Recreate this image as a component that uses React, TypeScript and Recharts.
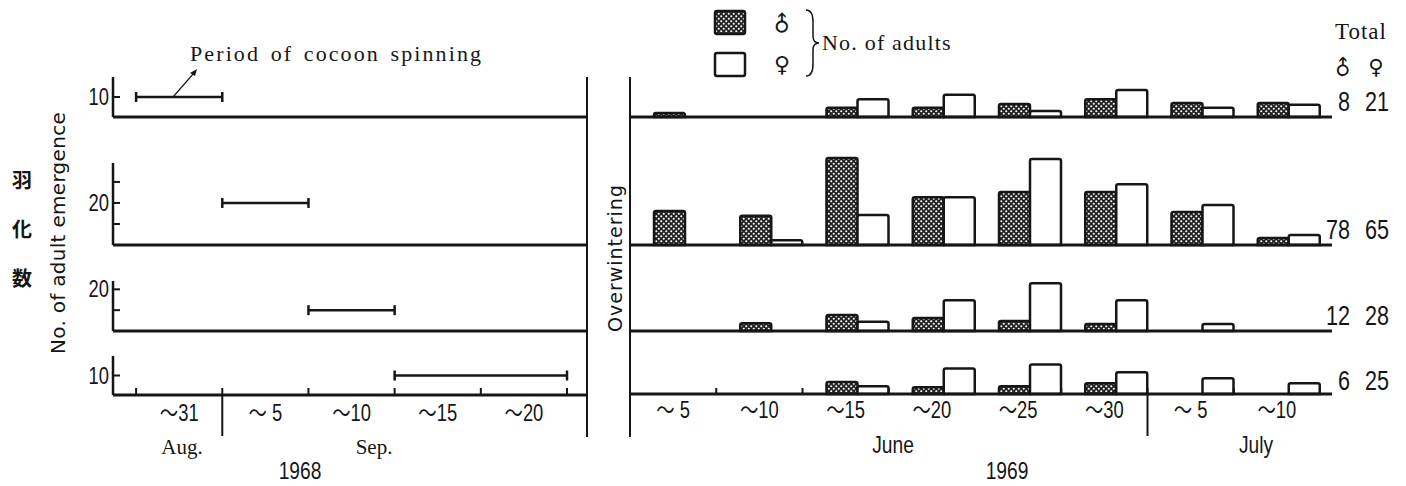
import React from 'react';
import { ComposedChart, Bar, Line, XAxis, YAxis } from 'recharts';

const W = 1406;
const H = 486;

// 1969: five-day emergence periods (June 1-5 ... July 6-10)
const periods = ['Jun 1-5', 'Jun 6-10', 'Jun 11-15', 'Jun 16-20', 'Jun 21-25', 'Jun 26-30', 'Jul 1-5', 'Jul 6-10'];
const periodLabels = ['～ 5', '～10', '～15', '～20', '～25', '～30', '～ 5', '～10'];

// No. of adults per period, one pair of arrays per cocoon-spinning group
const males1 = [0.9, 0, 2.1, 2.1, 3.0, 4.1, 3.2, 3.2];
const females1 = [0, 0, 4.1, 5.1, 1.4, 6.2, 2.1, 2.8];
const males2 = [7.8, 6.7, 20, 11, 12.2, 12.2, 7.6, 1.6];
const females2 = [0, 1.1, 6.9, 11, 19.8, 14, 9.2, 2.3];
const males3 = [0, 1.8, 3.7, 3.0, 2.3, 1.6, 0, 0];
const females3 = [0, 0, 2.1, 7.1, 11, 7.1, 1.6, 0];
const males4 = [0, 0, 2.8, 1.6, 1.8, 2.5, 0, 0];
const females4 = [0, 0, 1.8, 6.0, 6.9, 5.1, 3.7, 2.5];

const totalMales = [8, 78, 12, 6];
const totalFemales = [21, 65, 28, 25];

// 1968: cocoon spinning periods as day numbers counted from Aug 1 (Sep 5 = 36)
const spinStart = [26, 31, 36, 41];
const spinEnd = [31, 36, 41, 51];
const spinLevel = [10, 20, 10, 10];
const leftTicks = [[10], [10, 20, 30], [10, 20], [10]];
const leftTickShown = [[10], [20], [20], [10]];
const leftBounds = [26, 31, 36, 41, 46, 51];
const leftMids = [28.5, 33.5, 38.5, 43.5, 48.5];
const leftLabels = ['～31', '～ 5', '～10', '～15', '～20'];
const augSepBreak = 31;
const juneJulyBreak = 6;

const rightBounds = [1, 2, 3, 4, 5, 6, 7];
const rightMids = [0.5, 1.5, 2.5, 3.5, 4.5, 5.5, 6.5, 7.5];

const males = [males1, males2, males3, males4];
const females = [females1, females2, females3, females4];

// layout of the four rows (pixel tops / baselines)
const rows = [
  { top: 77, base: 117, leftMax: 20 },
  { top: 163, base: 245, leftMax: 39 },
  { top: 281, base: 331, leftMax: 24 },
  { top: 356, base: 396, leftMax: 20 },
];
const LEFT_X0 = 113;
const LEFT_X1 = 587;
const RIGHT_X0 = 630;
const RIGHT_X1 = 1332;
const RIGHT_H = 100;
const RIGHT_MAX = 23;
const LEFT_DOMAIN: [number, number] = [24.66, 52.16];
const RIGHT_DOMAIN: [number, number] = [0, 8.139];

const INK = '#161616';
const SANS_PLAIN = '"Liberation Sans", Arial, "Noto Sans CJK JP", sans-serif';
const SERIF = '"Liberation Serif", "DejaVu Serif", serif';
const SANS = '"DejaVu Sans", "Liberation Sans", sans-serif';

const layer: React.CSSProperties = { position: 'absolute', left: 0, top: 0 };

// condensed sans numerals, as in the printed figure
function Narrow({ x, y, size = 22, anchor = 'middle', children }: any) {
  return (
    <text
      transform={`translate(${x},${y}) scale(0.8,1)`}
      textAnchor={anchor}
      fontFamily={SANS_PLAIN}
      fontSize={size}
      fill={INK}
    >
      {children}
    </text>
  );
}

function LeftRow({ i }: { i: number }) {
  const r = rows[i];
  const seg = [
    { day: spinStart[i], n: spinLevel[i] },
    { day: spinEnd[i], n: spinLevel[i] },
  ];
  const last = i === rows.length - 1;
  return (
    <div style={layer}>
      <ComposedChart
        width={W}
        height={H}
        data={seg}
        margin={{ top: r.top, bottom: H - r.base - 1, left: LEFT_X0 - 1, right: W - LEFT_X1 }}
      >
        <XAxis
          xAxisId="d"
          dataKey="day"
          type="number"
          domain={LEFT_DOMAIN}
          allowDataOverflow
          height={1}
          ticks={last ? leftBounds : []}
          interval={0}
          tickSize={0}
          tickMargin={0}
          tickLine={false}
          axisLine={{ stroke: INK, strokeWidth: 3 }}
          tick={
            last
              ? (p: any) => (
                  <line
                    x1={p.x}
                    x2={p.x}
                    y1={p.y - 7}
                    y2={p.payload.value === augSepBreak ? p.y + 41 : p.y}
                    stroke={INK}
                    strokeWidth={2}
                  />
                )
              : false
          }
        />
        {last && (
          <XAxis
            xAxisId="lab"
            dataKey="day"
            type="number"
            domain={LEFT_DOMAIN}
            allowDataOverflow
            height={1}
            ticks={leftMids}
            interval={0}
            tickSize={0}
            tickMargin={0}
            tickLine={false}
            axisLine={false}
            tick={(p: any) => (
              <Narrow x={p.x} y={p.y + 25} size={23}>
                {leftLabels[p.index]}
              </Narrow>
            )}
          />
        )}
        <YAxis
          yAxisId="n"
          type="number"
          domain={[0, r.leftMax]}
          ticks={leftTicks[i]}
          interval={0}
          width={1}
          tickSize={0}
          tickMargin={0}
          tickLine={false}
          axisLine={{ stroke: INK, strokeWidth: 2.5 }}
          tick={(p: any) => (
            <g>
              <line x1={p.x} x2={p.x + 7} y1={p.y} y2={p.y} stroke={INK} strokeWidth={2} />
              {leftTickShown[i].includes(p.payload.value) && (
                <Narrow x={p.x - 4} y={p.y + 8} anchor="end" size={23}>
                  {p.payload.value}
                </Narrow>
              )}
            </g>
          )}
        />
        <Line
          xAxisId="d"
          yAxisId="n"
          dataKey="n"
          stroke={INK}
          strokeWidth={2.5}
          isAnimationActive={false}
          dot={(p: any) => (
            <line key={p.index} x1={p.cx} x2={p.cx} y1={p.cy - 5} y2={p.cy + 5} stroke={INK} strokeWidth={2.5} />
          )}
        />
      </ComposedChart>
    </div>
  );
}

function RightRow({ i }: { i: number }) {
  const r = rows[i];
  const data = periods.map((p, k) => ({
    period: p,
    slot: rightMids[k],
    male: males[i][k],
    female: females[i][k],
  }));
  const last = i === rows.length - 1;
  return (
    <div style={layer}>
      <ComposedChart
        width={W}
        height={H}
        data={data}
        margin={{ top: r.base - RIGHT_H, bottom: H - r.base - 1, left: RIGHT_X0, right: W - RIGHT_X1 }}
        barCategoryGap={12}
        barGap={0}
      >
        <XAxis
          xAxisId="bars"
          dataKey="period"
          type="category"
          padding={{ left: 12, right: 0 }}
          height={1}
          tick={false}
          tickLine={false}
          axisLine={{ stroke: INK, strokeWidth: 3 }}
        />
        {last && (
          <XAxis
            xAxisId="marks"
            dataKey="slot"
            type="number"
            domain={RIGHT_DOMAIN}
            allowDataOverflow
            height={1}
            ticks={rightBounds}
            interval={0}
            tickSize={0}
            tickMargin={0}
            tickLine={false}
            axisLine={false}
            tick={(p: any) => (
              <line
                x1={p.x}
                x2={p.x}
                y1={p.y - 8}
                y2={p.payload.value === juneJulyBreak ? p.y + 40 : p.y - 1}
                stroke={INK}
                strokeWidth={2}
              />
            )}
          />
        )}
        {last && (
          <XAxis
            xAxisId="labs"
            dataKey="slot"
            type="number"
            domain={RIGHT_DOMAIN}
            allowDataOverflow
            height={1}
            ticks={rightMids}
            interval={0}
            tickSize={0}
            tickMargin={0}
            tickLine={false}
            axisLine={false}
            tick={(p: any) => (
              <Narrow x={p.x} y={p.y + 23} size={23}>
                {periodLabels[p.index]}
              </Narrow>
            )}
          />
        )}
        <YAxis yAxisId="a" hide type="number" domain={[0, RIGHT_MAX]} />
        <Bar
          xAxisId="bars"
          yAxisId="a"
          dataKey="male"
          fill="url(#stipple)"
          stroke={INK}
          strokeWidth={2.5}
          radius={[2, 2, 0, 0]}
          isAnimationActive={false}
        />
        <Bar
          xAxisId="bars"
          yAxisId="a"
          dataKey="female"
          fill="#fff"
          stroke={INK}
          strokeWidth={2.5}
          radius={[2, 2, 0, 0]}
          isAnimationActive={false}
        />
      </ComposedChart>
    </div>
  );
}

function Overlay() {
  return (
    <svg width={W} height={H} style={{ ...layer, pointerEvents: 'none' }}>
      {/* panel frame lines */}
      <line x1={LEFT_X1} x2={LEFT_X1} y1={77} y2={437} stroke={INK} strokeWidth={2} />
      <line x1={RIGHT_X0} x2={RIGHT_X0} y1={77} y2={437} stroke={INK} strokeWidth={2} />

      {/* annotation */}
      <text x={190} y={61} fontFamily={SERIF} fontSize={22} fill={INK} letterSpacing={2.1} wordSpacing={3}>
        Period of cocoon spinning
      </text>
      <line x1={173} y1={97} x2={194} y2={73} stroke={INK} strokeWidth={1.2} />
      <polygon points="197,69 190,73 195,76" fill={INK} />

      {/* y titles */}
      <text
        transform="translate(65,233) rotate(-90)"
        textAnchor="middle"
        fontFamily={SANS}
        fontSize={20}
        letterSpacing={0.3}
        fill={INK}
      >
        No. of adult emergence
      </text>
      {['羽', '化', '数'].map((c, k) => (
        <text
          key={c}
          x={22}
          y={188 + k * 49}
          textAnchor="middle"
          fontFamily='"Noto Sans CJK JP", sans-serif'
          fontWeight={700}
          fontSize={20}
          fill={INK}
        >
          {c}
        </text>
      ))}
      <text
        transform="translate(622,258) rotate(-90)"
        textAnchor="middle"
        fontFamily={SANS}
        fontSize={19}
        letterSpacing={1}
        fill={INK}
      >
        Overwintering
      </text>

      {/* legend */}
      <rect x={715} y={11} width={30} height={23} fill="url(#stipple)" stroke={INK} strokeWidth={2.5} rx={2} />
      <rect x={715} y={53} width={30} height={23} fill="#fff" stroke={INK} strokeWidth={2.5} rx={2} />
      <text x={782} y={24} transform="rotate(-45 782 24)" textAnchor="middle" dominantBaseline="central" fontFamily={SANS} fontSize={22} fill={INK}>
        ♂
      </text>
      <text x={782} y={64} textAnchor="middle" dominantBaseline="central" fontFamily={SANS} fontSize={22} fill={INK}>
        ♀
      </text>
      <path d="M806,10 Q813,10 813,22 L813,36 Q813,43 819,43 Q813,43 813,50 L813,64 Q813,76 806,76" fill="none" stroke={INK} strokeWidth={1.5} />
      <text x={822} y={50} fontFamily={SERIF} fontSize={22} letterSpacing={1.2} fill={INK}>
        No. of adults
      </text>

      {/* totals */}
      <text x={1361} y={39} textAnchor="middle" fontFamily={SERIF} fontSize={23} letterSpacing={1} fill={INK}>
        Total
      </text>
      <text x={1343} y={68} transform="rotate(-45 1343 68)" textAnchor="middle" dominantBaseline="central" fontFamily={SANS} fontSize={21} fill={INK}>
        ♂
      </text>
      <text x={1376} y={67} textAnchor="middle" dominantBaseline="central" fontFamily={SANS} fontSize={21} fill={INK}>
        ♀
      </text>
      {rows.map((r, k) => (
        <g key={k}>
          <Narrow x={1350} y={r.base - 6} size={27} anchor="end">
            {totalMales[k]}
          </Narrow>
          <Narrow x={1389} y={r.base - 6} size={27} anchor="end">
            {totalFemales[k]}
          </Narrow>
        </g>
      ))}

      {/* months and years */}
      <text x={182} y={454} textAnchor="middle" fontFamily={SERIF} fontSize={21} fill={INK}>
        Aug.
      </text>
      <text x={374} y={454} textAnchor="middle" fontFamily={SERIF} fontSize={21} fill={INK}>
        Sep.
      </text>
      <Narrow x={300} y={479} size={24}>1968</Narrow>
      <Narrow x={893} y={453} size={24}>June</Narrow>
      <Narrow x={1256} y={453} size={24}>July</Narrow>
      <Narrow x={1007} y={479} size={24}>1969</Narrow>
    </svg>
  );
}

export default function App() {
  return (
    <div style={{ position: 'absolute', left: 0, top: 0, width: W, height: H, background: '#fff', overflow: 'hidden' }}>
      <svg width={0} height={0} style={{ position: 'absolute' }}>
        <defs>
          <pattern id="stipple" width={5} height={5} patternUnits="userSpaceOnUse">
            <rect width={5} height={5} fill="#222" />
            <circle cx={1.25} cy={1.25} r={1.05} fill="#fff" />
            <circle cx={3.75} cy={3.75} r={1.05} fill="#fff" />
          </pattern>
        </defs>
      </svg>
      {rows.map((_, i) => (
        <LeftRow key={`l${i}`} i={i} />
      ))}
      {rows.map((_, i) => (
        <RightRow key={`r${i}`} i={i} />
      ))}
      <Overlay />
    </div>
  );
}
